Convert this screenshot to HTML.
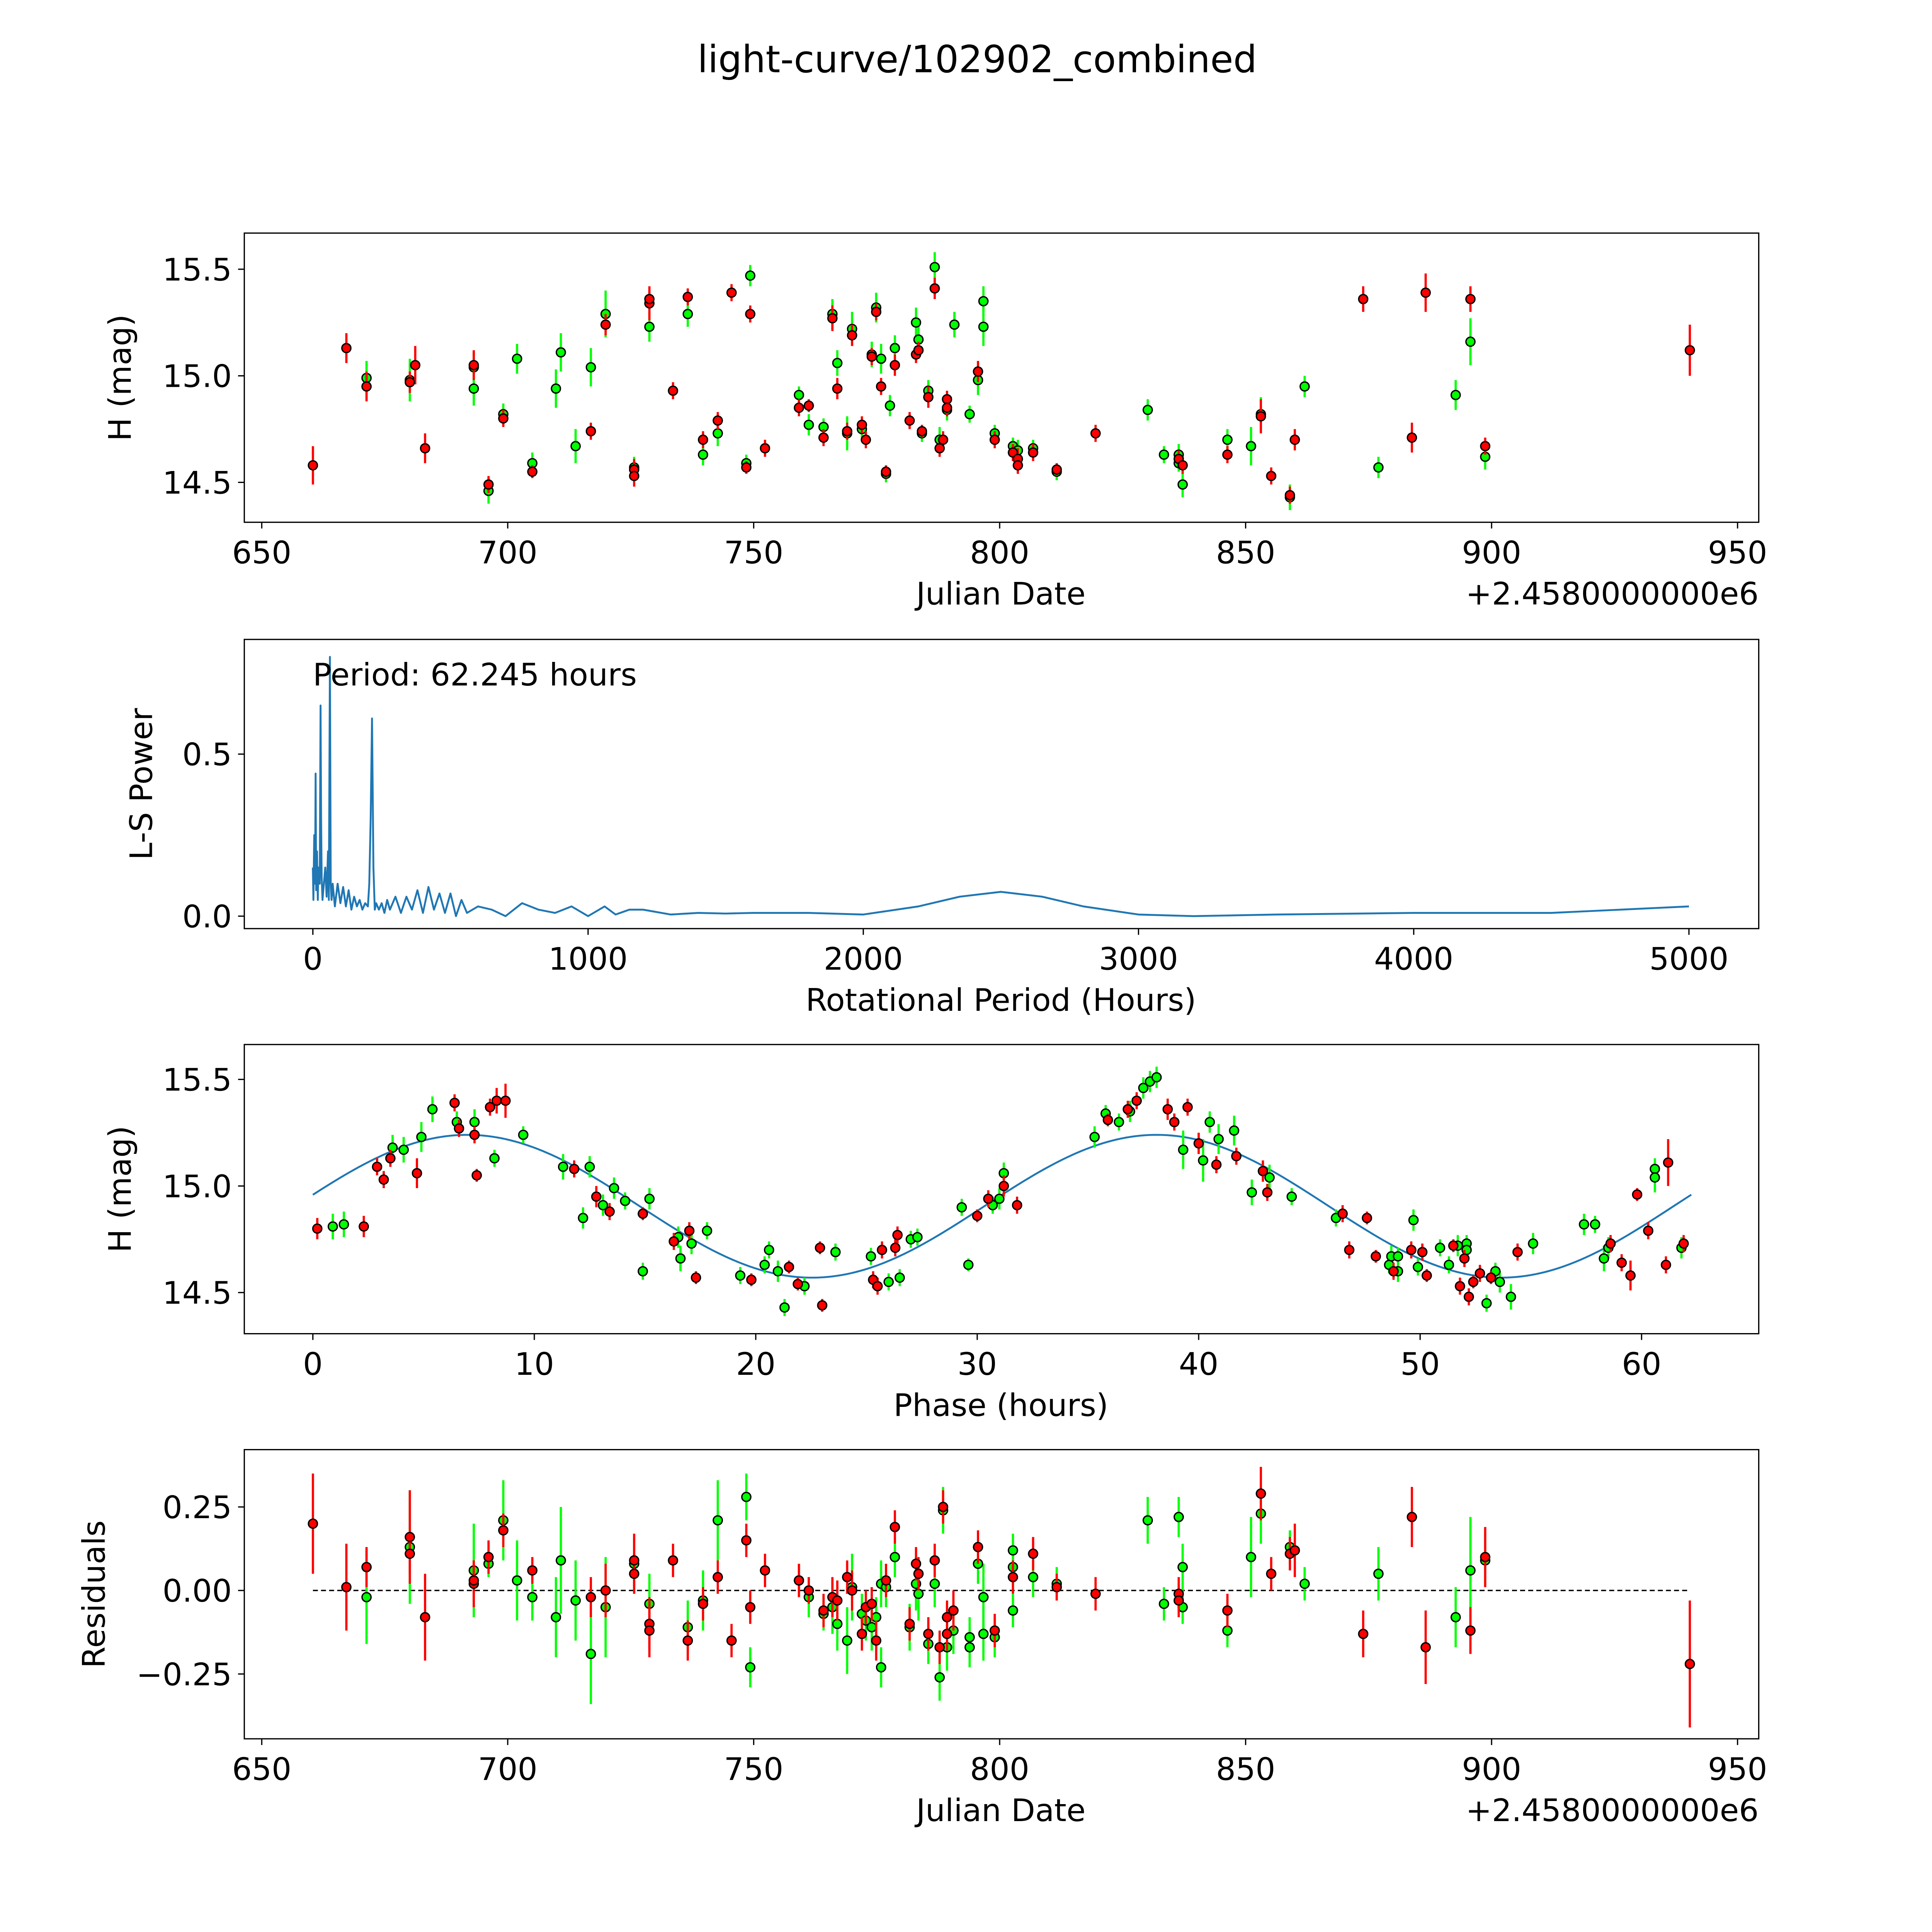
<!DOCTYPE html>
<html><head><meta charset="utf-8"><style>
html,body{margin:0;padding:0;background:#fff;overflow:hidden;width:100vw;height:100vh;}
svg{display:block;position:absolute;left:0;top:0;width:100vw;height:100vh;}
text{font-family:"DejaVu Sans","Liberation Sans",sans-serif;fill:#000;}
</style></head><body>
<svg id="fig" viewBox="0 0 1550 1550" preserveAspectRatio="none" xmlns="http://www.w3.org/2000/svg">
<rect x="0" y="0" width="1550" height="1550" fill="#fff"/>
<text x="784" y="58" font-size="30" text-anchor="middle">light-curve/102902_combined</text>
</svg>
<script>
// ---------- Panel 1: light curve ----------
const lcGreenJD  = [671.3,680.1,693.1,693.1,696.1,699.1,701.9,705,709.8,710.8,713.8,716.9,719.9,725.7,728.8,736.6,739.7,742.7,748.5,749.3,759.2,761.2,764.2,766,767,769,770,772,774,774.9,775.9,776.9,777.7,778.7,783,783.5,784.2,785.5,786.8,787.8,789.3,790.8,793.9,795.6,796.7,796.7,799,802.7,803.7,806.8,811.6,830.1,833.4,836.4,836.4,837.2,846.3,851.1,853.1,859,862,877,892.7,895.7,898.7];
const lcGreenMag = [14.99,14.98,14.94,15.04,14.46,14.82,15.08,14.59,14.94,15.11,14.67,15.04,15.29,14.57,15.23,15.29,14.63,14.73,14.59,15.47,14.91,14.77,14.76,15.29,15.06,14.73,15.22,14.75,15.10,15.32,15.08,14.54,14.86,15.13,15.25,15.17,14.73,14.93,15.51,14.70,14.84,15.24,14.82,14.98,15.23,15.35,14.73,14.67,14.65,14.66,14.55,14.84,14.63,14.63,14.59,14.49,14.70,14.67,14.82,14.43,14.95,14.57,14.91,15.16,14.62];
const lcGreenErr = [.08,.10,.08,.07,.06,.05,.07,.05,.09,.09,.08,.09,.11,.05,.07,.06,.05,.06,.04,.05,.04,.05,.04,.07,.06,.08,.08,.04,.06,.07,.07,.04,.05,.06,.07,.07,.04,.05,.07,.06,.05,.06,.04,.07,.09,.07,.04,.04,.05,.04,.04,.05,.04,.05,.04,.06,.05,.09,.08,.06,.05,.05,.07,.11,.06];
const lcRedJD  = [660.4,667.2,671.3,680.1,681.2,683.2,693.1,696.1,699.1,705,716.9,719.9,725.7,725.7,728.8,728.8,733.6,736.6,739.7,742.7,745.5,748.5,749.3,752.3,759.2,761.2,764.2,766,767,769,770,772,772.8,774,774.9,775.9,776.9,778.7,781.7,783,783.5,784.2,785.5,786.8,787.8,788.5,789.3,789.3,795.6,799,802.7,803.7,803.7,806.8,811.6,819.5,836.4,837.2,846.3,853.1,855.2,859,860,873.9,883.8,886.6,895.7,898.7,940.3];
const lcRedMag = [14.58,15.13,14.95,14.97,15.05,14.66,15.05,14.49,14.80,14.55,14.74,15.24,14.56,14.53,15.34,15.36,14.93,15.37,14.70,14.79,15.39,14.57,15.29,14.66,14.85,14.86,14.71,15.27,14.94,14.74,15.19,14.77,14.70,15.09,15.30,14.95,14.55,15.05,14.79,15.10,15.12,14.74,14.90,15.41,14.66,14.70,14.89,14.85,15.02,14.70,14.64,14.61,14.58,14.64,14.56,14.73,14.61,14.58,14.63,14.81,14.53,14.44,14.70,15.36,14.71,15.39,15.36,14.67,15.12];
const lcRedErr = [.09,.07,.07,.05,.09,.07,.07,.04,.04,.03,.04,.05,.05,.05,.08,.04,.04,.04,.04,.04,.04,.03,.04,.04,.04,.03,.04,.06,.05,.04,.05,.04,.04,.04,.04,.04,.03,.05,.04,.04,.04,.03,.05,.05,.04,.04,.04,.04,.05,.04,.04,.05,.04,.04,.03,.04,.04,.04,.04,.08,.04,.04,.05,.06,.07,.09,.06,.04,.12];

// ---------- Panel 2: periodogram ----------
const lsPeriod = [0,2,5,8,10,12,15,18,20,25,28,30,32,35,40,45,50,55,58,62,65,68,72,80,90,100,110,120,130,140,150,160,170,180,190,200,205,210,215,220,225,230,240,250,260,270,280,290,300,320,340,360,380,400,420,440,460,480,500,520,540,560,600,650,700,760,820,880,940,1000,1060,1100,1150,1200,1300,1400,1500,1600,1800,2000,2200,2350,2500,2650,2800,3000,3200,3500,4000,4500,5000];
const lsPower = [0.15,0.05,0.25,0.1,0.44,0.08,0.2,0.05,0.15,0.1,0.65,0.3,0.12,0.05,0.1,0.15,0.06,0.2,0.05,0.8,0.1,0.05,0.1,0.03,0.1,0.04,0.09,0.03,0.08,0.02,0.06,0.03,0.05,0.02,0.04,0.03,0.1,0.3,0.61,0.15,0.02,0.04,0.02,0.04,0.01,0.05,0.02,0.04,0.06,0.01,0.06,0.02,0.08,0.01,0.09,0.02,0.07,0.01,0.07,0.0,0.05,0.01,0.03,0.02,0.0,0.04,0.02,0.01,0.03,0.0,0.03,0.005,0.02,0.02,0.005,0.01,0.008,0.01,0.01,0.005,0.03,0.06,0.075,0.06,0.03,0.005,0.0,0.005,0.01,0.01,0.03];

// ---------- Panel 3: phase folded ----------
const phGreenX = [0.9,1.4,3.6,4.1,4.9,5.4,6.5,7.3,8.2,9.5,11.3,12.2,12.5,13.1,13.6,14.1,14.9,15.2,16.5,16.6,17.1,17.8,19.3,20.4,20.6,21.0,21.3,22.2,23.6,25.2,26.0,26.5,27.0,27.3,29.3,29.6,30.7,31.0,31.2,35.3,35.8,36.4,36.9,37.5,37.8,38.1,39.3,40.2,40.5,40.9,41.6,42.4,43.2,44.2,46.2,48.6,48.7,49.0,49.0,49.7,49.9,50.9,51.3,51.7,52.1,52.1,53.0,53.4,53.6,54.1,55.1,57.4,57.9,58.3,58.5,60.6,60.6,61.8];
const phGreenMag = [14.81,14.82,15.18,15.17,15.23,15.36,15.30,15.30,15.13,15.24,15.09,14.85,15.09,14.91,14.99,14.93,14.60,14.94,14.76,14.66,14.73,14.79,14.58,14.63,14.70,14.60,14.43,14.53,14.69,14.67,14.55,14.57,14.75,14.76,14.90,14.63,14.91,14.94,15.06,15.23,15.34,15.30,15.35,15.46,15.49,15.51,15.17,15.12,15.30,15.22,15.26,14.97,15.04,14.95,14.85,14.63,14.67,14.60,14.67,14.84,14.62,14.71,14.63,14.72,14.73,14.70,14.45,14.60,14.55,14.48,14.73,14.82,14.82,14.66,14.71,15.08,15.04,14.71];
const phGreenErr = [.06,.06,.06,.06,.07,.06,.05,.06,.04,.04,.06,.05,.05,.05,.05,.04,.04,.05,.05,.06,.05,.04,.04,.04,.04,.05,.04,.04,.04,.04,.04,.04,.04,.04,.04,.03,.04,.05,.05,.05,.04,.04,.05,.05,.05,.05,.09,.10,.05,.07,.07,.06,.06,.04,.04,.04,.05,.05,.04,.05,.04,.04,.04,.05,.04,.04,.04,.04,.05,.06,.05,.05,.04,.06,.05,.05,.07,.05];
const phRedX = [0.2,2.3,2.9,3.2,3.5,4.7,6.4,6.6,7.3,7.4,8.0,8.3,8.7,11.8,12.8,13.4,14.9,16.3,17.0,17.3,19.8,21.5,21.9,22.9,23.0,25.3,25.5,25.7,26.3,26.4,30.0,30.5,31.2,31.8,35.9,36.8,37.2,38.6,38.9,39.5,40.0,40.8,41.7,42.9,43.1,46.5,46.8,47.6,48.0,48.8,49.6,50.1,50.3,51.5,51.8,52.0,52.2,52.4,52.7,53.2,54.4,58.6,59.1,59.5,59.8,60.3,61.1,61.2,61.9];
const phRedMag = [14.80,14.81,15.09,15.03,15.13,15.06,15.39,15.27,15.24,15.05,15.37,15.40,15.40,15.08,14.95,14.88,14.87,14.74,14.79,14.57,14.56,14.62,14.54,14.71,14.44,14.56,14.53,14.70,14.71,14.77,14.86,14.94,15.00,14.91,15.31,15.36,15.40,15.36,15.30,15.37,15.20,15.10,15.14,15.07,14.97,14.87,14.70,14.85,14.67,14.60,14.70,14.69,14.58,14.72,14.53,14.66,14.48,14.55,14.59,14.57,14.69,14.73,14.64,14.58,14.96,14.79,14.63,15.11,14.73];
const phRedErr = [.05,.05,.04,.04,.04,.07,.04,.04,.04,.03,.04,.06,.08,.04,.05,.04,.03,.04,.04,.03,.03,.03,.03,.03,.03,.04,.04,.04,.04,.04,.03,.04,.05,.04,.03,.04,.04,.05,.04,.04,.05,.04,.04,.05,.04,.04,.04,.03,.03,.04,.04,.04,.03,.03,.04,.04,.04,.03,.04,.03,.04,.04,.04,.07,.03,.04,.04,.11,.04];
// model sine: mean, amplitude, cycle length (hours), phase offset
const fitMean = 14.905, fitAmp = 0.335, fitCycle = 31.12, fitShift = -0.8, periodHours = 62.245;

// ---------- Panel 4: residuals ----------
const rsGreenJD = [671.3,680.1,693.1,696.1,699.1,701.9,705,709.8,710.8,713.8,716.9,719.9,725.7,728.8,736.6,739.7,742.7,748.5,749.3,759.2,761.2,764.2,766,767,769,770,772,772.8,774,774.9,775.9,775.9,776.9,778.7,781.7,783,783.5,785.5,786.8,787.8,788.5,789.3,790.6,793.9,793.9,795.6,796.7,796.7,799,802.7,802.7,802.7,806.8,811.6,830.1,833.4,836.4,837.2,837.2,846.3,851.1,853.1,859,862,877,892.7,895.7,898.7];
const rsGreenVal = [-0.02,0.13,0.06,0.08,0.21,0.03,-0.02,-0.08,0.09,-0.03,-0.19,-0.05,0.08,-0.04,-0.11,-0.03,0.21,0.28,-0.23,0.03,-0.02,-0.07,-0.05,-0.10,-0.15,0.01,-0.07,-0.09,-0.11,-0.08,-0.23,0.02,0.01,0.10,-0.11,0.02,-0.01,-0.16,0.02,-0.26,0.24,-0.17,-0.12,-0.17,-0.14,0.08,-0.02,-0.13,-0.14,-0.06,0.07,0.12,0.04,0.02,0.21,-0.04,0.22,0.07,-0.05,-0.12,0.10,0.23,0.13,0.02,0.05,-0.08,0.06,0.09];
const rsGreenErr = [.14,.17,.14,.04,.12,.12,.07,.12,.16,.12,.15,.15,.08,.09,.08,.09,.12,.07,.06,.05,.06,.05,.08,.08,.10,.10,.06,.06,.07,.06,.06,.07,.06,.06,.07,.08,.08,.06,.07,.07,.07,.07,.07,.06,.06,.06,.10,.08,.06,.05,.06,.05,.06,.05,.07,.05,.06,.07,.05,.05,.12,.09,.05,.05,.08,.09,.16,.08];
const rsRedJD = [660.4,667.2,671.3,680.1,680.1,683.2,693.1,693.1,696.1,699.1,705,716.9,719.9,725.7,725.7,728.8,728.8,733.6,736.6,739.7,742.7,745.5,748.5,749.3,752.3,759.2,761.2,764.2,766,767,769,770,772,772.8,774,774.9,776.9,778.7,781.7,783,783.5,785.5,786.8,787.8,788.5,789.3,789.3,790.6,795.6,799,802.7,806.8,811.6,819.5,836.4,836.4,846.3,853.1,855.2,859,860,873.9,883.8,886.6,895.7,898.7,940.3];
const rsRedVal = [0.20,0.01,0.07,0.11,0.16,-0.08,0.02,0.03,0.10,0.18,0.06,-0.02,0.00,0.05,0.09,-0.10,-0.12,0.09,-0.15,-0.04,0.04,-0.15,0.15,-0.05,0.06,0.03,0.00,-0.06,-0.02,-0.03,0.04,0.00,-0.13,-0.05,-0.04,-0.15,0.03,0.19,-0.10,0.08,0.05,-0.13,0.09,-0.17,0.25,-0.13,-0.08,-0.06,0.13,-0.12,0.04,0.11,0.01,-0.01,-0.01,-0.03,-0.06,0.29,0.05,0.11,0.12,-0.13,0.22,-0.17,-0.12,0.10,-0.22];
const rsRedErr = [.15,.13,.06,.06,.14,.13,.07,.06,.05,.05,.04,.06,.08,.06,.08,.08,.08,.05,.06,.05,.05,.05,.05,.05,.05,.05,.04,.05,.06,.06,.05,.06,.05,.05,.05,.06,.05,.05,.05,.05,.05,.05,.05,.05,.05,.05,.05,.06,.05,.05,.05,.05,.04,.05,.05,.05,.05,.08,.05,.05,.08,.07,.09,.11,.07,.09,.19];

// ---------- tick labels ----------
const jdTicks = [650,700,750,800,850,900,950];
const lcYTicks = [14.5,15.0,15.5];
const lsXTicks = [0,1000,2000,3000,4000,5000];
const lsYTicks = [0.0,0.5];
const phXTicks = [0,10,20,30,40,50,60];
const rsYTicks = [-0.25,0.0,0.25];

const NS = "http://www.w3.org/2000/svg";
const svg = document.getElementById('fig');
function lin(d0,d1,r0,r1){return v=>r0+(v-d0)*(r1-r0)/(d1-d0);}
function el(tag,attrs,parent){const e=document.createElementNS(NS,tag);for(const k in attrs)e.setAttribute(k,attrs[k]);(parent||svg).appendChild(e);return e;}
const L=196,R=1411,H=232,FS=25;
const fmt2=v=>(v<0?'\u2212':'')+Math.abs(v).toFixed(2);
const fmt1=v=>v.toFixed(1);

function axes(name,top,xs,ys,xt,yt,xfmt,yfmt,xlabel,ylabel,ylabelX,offsetText){
  const g=el('g',{});
  
  
  const cid='clip-'+name;
  const cp=el('clipPath',{id:cid},g);el('rect',{x:L,y:top,width:R-L,height:H},cp);
  const plot=el('g',{'clip-path':'url(#'+cid+')'},g);
  
  
  const frame=el('rect',{x:L,y:top,width:R-L,height:H,fill:'none',stroke:'#000','stroke-width':1},g);
  
  
  xt.forEach(v=>{const x=xs(v);
    el('line',{x1:x,x2:x,y1:top+H,y2:top+H+5,stroke:'#000','stroke-width':1},g);
    const t=el('text',{x:x,y:top+H+33,'font-size':FS,'text-anchor':'middle'},g);t.textContent=xfmt(v);
    
    });
  yt.forEach(v=>{const y=ys(v);
    el('line',{x1:L-5,x2:L,y1:y,y2:y,stroke:'#000','stroke-width':1},g);
    const t=el('text',{x:L-10,y:y+9,'font-size':FS,'text-anchor':'end'},g);t.textContent=yfmt(v);
    
    });
  const xl=el('text',{x:803,y:top+H+66,'font-size':FS,'text-anchor':'middle'},g);xl.textContent=xlabel;
  
  
  const cy=top+H/2;
  const yl=el('text',{x:ylabelX,y:cy,'font-size':FS,'text-anchor':'middle',transform:'rotate(-90 '+ylabelX+' '+cy+')'},g);yl.textContent=ylabel;
  
  
  if(offsetText){const o=el('text',{x:R,y:top+H+66,'font-size':FS,'text-anchor':'end'},g);o.textContent=offsetText;
    
    }
  return plot;
}
function errSeries(plot,xs,ys,X,Y,E,col,name){
  for(let i=0;i<X.length;i++){
    const b=el('line',{x1:xs(X[i]),x2:xs(X[i]),y1:ys(Y[i]-E[i]),y2:ys(Y[i]+E[i]),stroke:col,'stroke-width':1.8},plot);
    
    }
  for(let i=0;i<X.length;i++){
    const p=el('circle',{cx:xs(X[i]),cy:ys(Y[i]),r:3.6,fill:col,stroke:'#000','stroke-width':1.1},plot);
    
    }
}

// Panel 1
const x1=lin(650,950,210,1394), y1=lin(14.5,15.5,387,216);
const p1=axes('light-curve-panel',187,x1,y1,jdTicks,lcYTicks,v=>String(v),fmt1,'Julian Date','H (mag)',105,'+2.4580000000e6');
errSeries(p1,x1,y1,lcGreenJD,lcGreenMag,lcGreenErr,'#00ff00','light-curve-green');
errSeries(p1,x1,y1,lcRedJD,lcRedMag,lcRedErr,'#ff0000','light-curve-red');

// Panel 2
const x2=lin(0,5000,251,1355), y2=lin(0,0.5,735,605);
const p2=axes('periodogram-panel',513,x2,y2,lsXTicks,lsYTicks,v=>String(v),fmt1,'Rotational Period (Hours)','L-S Power',122,null);
let d='';lsPeriod.forEach((p,i)=>{d+=(i?'L':'M')+x2(p).toFixed(2)+' '+y2(lsPower[i]).toFixed(2);});
const ls=el('path',{d:d,fill:'none',stroke:'#1f77b4','stroke-width':1.5,'stroke-linejoin':'round'},p2);


const pt=el('text',{x:251,y:550,'font-size':FS},svg);pt.textContent='Period: '+periodHours.toFixed(3)+' hours';



// Panel 3
const x3=lin(0,60,251,1317), y3=lin(14.5,15.5,1037,866);
const p3=axes('phase-panel',838,x3,y3,phXTicks,lcYTicks,v=>String(v),fmt1,'Phase (hours)','H (mag)',105,null);
let dm='';for(let k=0;k<=300;k++){const ph=periodHours*k/300;const m=fitMean+fitAmp*Math.sin(2*Math.PI*(ph-fitShift)/fitCycle);dm+=(k?'L':'M')+x3(ph).toFixed(2)+' '+y3(m).toFixed(2);}
const fit=el('path',{d:dm,fill:'none',stroke:'#1f77b4','stroke-width':1.5},p3);


errSeries(p3,x3,y3,phGreenX,phGreenMag,phGreenErr,'#00ff00','phase-green');
errSeries(p3,x3,y3,phRedX,phRedMag,phRedErr,'#ff0000','phase-red');

// Panel 4
const y4=lin(-0.25,0.25,1343,1209);
const p4=axes('residuals-panel',1163,x1,y4,jdTicks,rsYTicks,v=>String(v),fmt2,'Julian Date','Residuals',84,'+2.4580000000e6');
const zl=el('line',{x1:x1(660.4),x2:x1(940.3),y1:y4(0),y2:y4(0),stroke:'#000','stroke-width':1.1,'stroke-dasharray':'4 2.5'},p4);


errSeries(p4,x1,y4,rsGreenJD,rsGreenVal,rsGreenErr,'#00ff00','residual-green');
errSeries(p4,x1,y4,rsRedJD,rsRedVal,rsRedErr,'#ff0000','residual-red');
</script>
</body></html>
